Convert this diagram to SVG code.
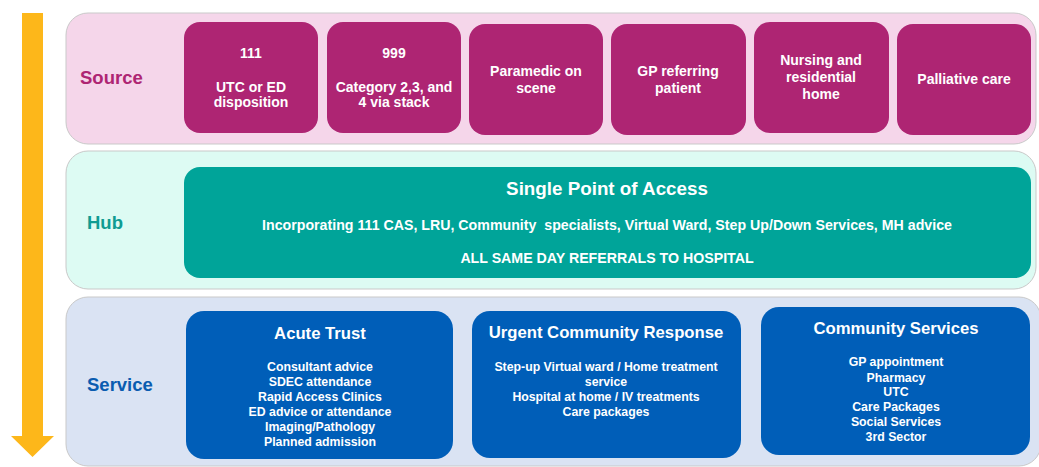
<svg xmlns="http://www.w3.org/2000/svg" width="1039" height="467" viewBox="0 0 1039 467">
  <defs>
    <style>
      text { font-family: "Liberation Sans", Arial, sans-serif; font-weight: bold; text-anchor: middle; }
      .band { stroke: #C9C9C9; stroke-width: 1; }
      .src { fill: #AE2573; }
      .srcText { fill: #FFFFFF; font-size: 14px; }
      .hubBox { fill: #00A499; }
      .svcBox { fill: #005EB8; }
      .white { fill: #FFFFFF; }
      .title { font-size: 16.7px; }
      .item { font-size: 12.3px; }
      .label { font-size: 18.5px; text-anchor: start; }
    </style>
  </defs>

  <!-- flow direction arrow -->
  <g id="flow-arrow">
    <path d="M22 13 H43 V436 H54 L32.5 457 L11 436 H22 Z" fill="#FDB71A"/>
  </g>

  <!-- row backgrounds -->
  <g id="band-source">
    <rect class="band" x="66" y="13" width="970" height="131" rx="22" fill="#F5D6EA"/>
    <text class="label" x="80" y="84" fill="#AE2573">Source</text>
  </g>
  <g id="band-hub">
    <rect class="band" x="66" y="151" width="970" height="138" rx="22" fill="#DDFBF3"/>
    <text class="label" x="87" y="229" fill="#0F9C92">Hub</text>
  </g>
  <g id="band-service">
    <rect class="band" x="66" y="297" width="975" height="169" rx="22" fill="#DAE3F3"/>
    <text class="label" x="87" y="391" fill="#0A5CB0">Service</text>
  </g>

  <!-- source nodes -->
  <g id="node-111">
    <rect class="src" x="184" y="22" width="134" height="111" rx="16"/>
    <text class="srcText" x="251" y="58">111</text>
    <text class="srcText" x="251" y="92">UTC or ED</text>
    <text class="srcText" x="251" y="107">disposition</text>
  </g>
  <g id="node-999">
    <rect class="src" x="327" y="22" width="134" height="111" rx="16"/>
    <text class="srcText" x="394" y="58">999</text>
    <text class="srcText" x="394" y="92">Category 2,3, and</text>
    <text class="srcText" x="394" y="107">4 via stack</text>
  </g>
  <g id="node-paramedic">
    <rect class="src" x="469" y="24" width="134" height="111" rx="16"/>
    <text class="srcText" x="536" y="76">Paramedic on</text>
    <text class="srcText" x="536" y="93">scene</text>
  </g>
  <g id="node-gp">
    <rect class="src" x="611" y="24" width="135" height="111" rx="16"/>
    <text class="srcText" x="678" y="76">GP referring</text>
    <text class="srcText" x="678" y="93">patient</text>
  </g>
  <g id="node-nursing">
    <rect class="src" x="754" y="22" width="135" height="111" rx="16"/>
    <text class="srcText" x="821" y="65">Nursing and</text>
    <text class="srcText" x="821" y="82">residential</text>
    <text class="srcText" x="821" y="99">home</text>
  </g>
  <g id="node-palliative">
    <rect class="src" x="897" y="24" width="134" height="111" rx="16"/>
    <text class="srcText" x="964" y="84">Palliative care</text>
  </g>

  <!-- hub node -->
  <g id="node-spa">
    <rect class="hubBox" x="184" y="167" width="847" height="111" rx="16"/>
    <text class="white" x="607" y="195" font-size="18.8">Single Point of Access</text>
    <text class="white" x="607" y="230" font-size="14.2" xml:space="preserve">Incorporating 111 CAS, LRU, Community  specialists, Virtual Ward, Step Up/Down Services, MH advice</text>
    <text class="white" x="607" y="263" font-size="14.2">ALL SAME DAY REFERRALS TO HOSPITAL</text>
  </g>

  <!-- service nodes -->
  <g id="node-acute">
    <rect class="svcBox" x="186" y="311" width="267" height="148" rx="18"/>
    <text class="white title" x="320" y="339">Acute Trust</text>
    <text class="white item" x="320" y="371">Consultant advice</text>
    <text class="white item" x="320" y="386">SDEC attendance</text>
    <text class="white item" x="320" y="401">Rapid Access Clinics</text>
    <text class="white item" x="320" y="416">ED advice or attendance</text>
    <text class="white item" x="320" y="431">Imaging/Pathology</text>
    <text class="white item" x="320" y="446">Planned admission</text>
  </g>
  <g id="node-ucr">
    <rect class="svcBox" x="472" y="311" width="269" height="147" rx="18"/>
    <text class="white title" x="606" y="338">Urgent Community Response</text>
    <text class="white item" x="606" y="371">Step-up Virtual ward / Home treatment</text>
    <text class="white item" x="606" y="386">service</text>
    <text class="white item" x="606" y="401">Hospital at home / IV treatments</text>
    <text class="white item" x="606" y="416">Care packages</text>
  </g>
  <g id="node-community">
    <rect class="svcBox" x="761" y="307" width="269" height="148" rx="18"/>
    <text class="white title" x="896" y="334">Community Services</text>
    <text class="white item" x="896" y="366">GP appointment</text>
    <text class="white item" x="896" y="382">Pharmacy</text>
    <text class="white item" x="896" y="396">UTC</text>
    <text class="white item" x="896" y="411">Care Packages</text>
    <text class="white item" x="896" y="426">Social Services</text>
    <text class="white item" x="896" y="441">3rd Sector</text>
  </g>

  <!-- no connectors in this layout; the arrow shows flow -->
  <g id="connectors"/>
</svg>
